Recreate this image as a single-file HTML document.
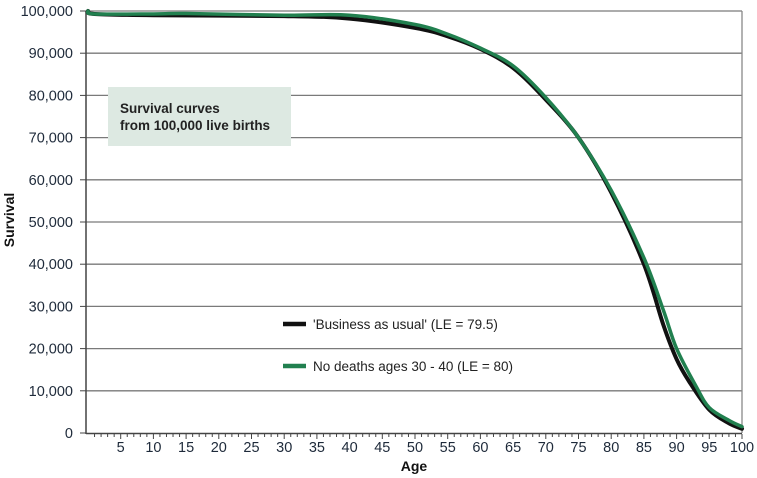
<!DOCTYPE html>
<html><head><meta charset="utf-8"><style>
body{margin:0;background:#fff;}
svg{display:block;font-family:"Liberation Sans",sans-serif;}
</style></head><body>
<svg id="s" width="757" height="478" xmlns="http://www.w3.org/2000/svg">
<g id="grid" stroke="#7a7a7a" stroke-width="1.3"></g>
<line x1="742" y1="11" x2="742" y2="433" stroke="#888" stroke-width="1.3"/>
<line x1="86" y1="11" x2="86" y2="434" stroke="#444" stroke-width="1.5"/>
<line x1="86" y1="433.5" x2="742" y2="433.5" stroke="#444" stroke-width="1.5"/>
<g id="ticks" stroke="#444" stroke-width="1"></g>
<g id="ylab" font-size="14.5" fill="#1e2a3a" text-anchor="end"></g>
<g id="xlab" font-size="14.5" fill="#1e2a3a" text-anchor="middle"></g>
<rect x="108" y="87" width="183" height="59" fill="#dde9e2"/>
<text x="120" y="113" font-size="13.5" font-weight="bold" fill="#222">Survival curves</text>
<text x="120" y="130" font-size="13.5" font-weight="bold" fill="#222">from 100,000 live births</text>
<path id="pb" fill="none" stroke="#111" stroke-width="4" stroke-linecap="round"/>
<path id="pg" fill="none" stroke="#21804f" stroke-width="3.5" stroke-linecap="round"/>
<line x1="283" y1="324" x2="306" y2="324" stroke="#111" stroke-width="4.5"/>
<text x="313" y="329" font-size="13.5" fill="#222">'Business as usual' (LE = 79.5)</text>
<line x1="283" y1="366" x2="306" y2="366" stroke="#21804f" stroke-width="4.5"/>
<text x="313" y="371" font-size="13.5" fill="#222">No deaths ages 30 - 40 (LE = 80)</text>
<text x="414" y="471" font-size="14" font-weight="bold" fill="#111" text-anchor="middle">Age</text>
<text transform="translate(14,220) rotate(-90)" font-size="14" font-weight="bold" fill="#111" text-anchor="middle">Survival</text>
</svg>
<script>
var NS="http://www.w3.org/2000/svg";
function X(a){return 88+a*6.54;}
function Y(v){return 433-v*0.00422;}
function el(p,t,at,txt){var e=document.createElementNS(NS,t);for(var k in at)e.setAttribute(k,at[k]);if(txt!=null)e.textContent=txt;document.getElementById(p).appendChild(e);}
for(var i=1;i<=10;i++){var y=Y(i*10000);el("grid","line",{x1:86,y1:y,x2:742,y2:y});}
for(var i=0;i<=10;i++){var y=Y(i*10000);el("ylab","text",{x:73,y:y+5},i==0?"0":(i*10)+",000");el("ticks","line",{x1:80,y1:y,x2:86,y2:y});}
for(var a=1;a<=100;a++){el("ticks","line",{x1:X(a),y1:434,x2:X(a),y2:a%5==0?439:437});}
for(var a=5;a<=100;a+=5){el("xlab","text",{x:X(a),y:452},String(a));}
function path(pts){var p=pts.map(function(d){return [X(d[0]),Y(d[1])];});var s="M"+p[0][0]+","+p[0][1];
for(var i=0;i<p.length-1;i++){var p0=p[i-1]||p[i],p1=p[i],p2=p[i+1],p3=p[i+2]||p2;
s+=" C"+(p1[0]+(p2[0]-p0[0])/6)+","+(p1[1]+(p2[1]-p0[1])/6)+" "+(p2[0]-(p3[0]-p1[0])/6)+","+(p2[1]-(p3[1]-p1[1])/6)+" "+p2[0]+","+p2[1];}return s;}
var b=[[0,100000],[1,99300],[10,99000],[30,98800],[40,98200],[50,96000],[55,94000],[60,91000],[65,86500],[70,79000],[75,70000],[80,57000],[85,40000],[88,25500],[90,17500],[92,12000],[95,5500],[98,2300],[100,1000]];
var g=[[0,100000],[1,99300],[10,99300],[15,99400],[30,99000],[40,99000],[50,96800],[55,94500],[60,91200],[65,87000],[70,79500],[75,70000],[80,57500],[85,41500],[88,29000],[90,20000],[93,11000],[95,6000],[98,3000],[100,1500]];
document.getElementById("pb").setAttribute("d",path(b));
document.getElementById("pg").setAttribute("d",path(g));
</script>
</body></html>
